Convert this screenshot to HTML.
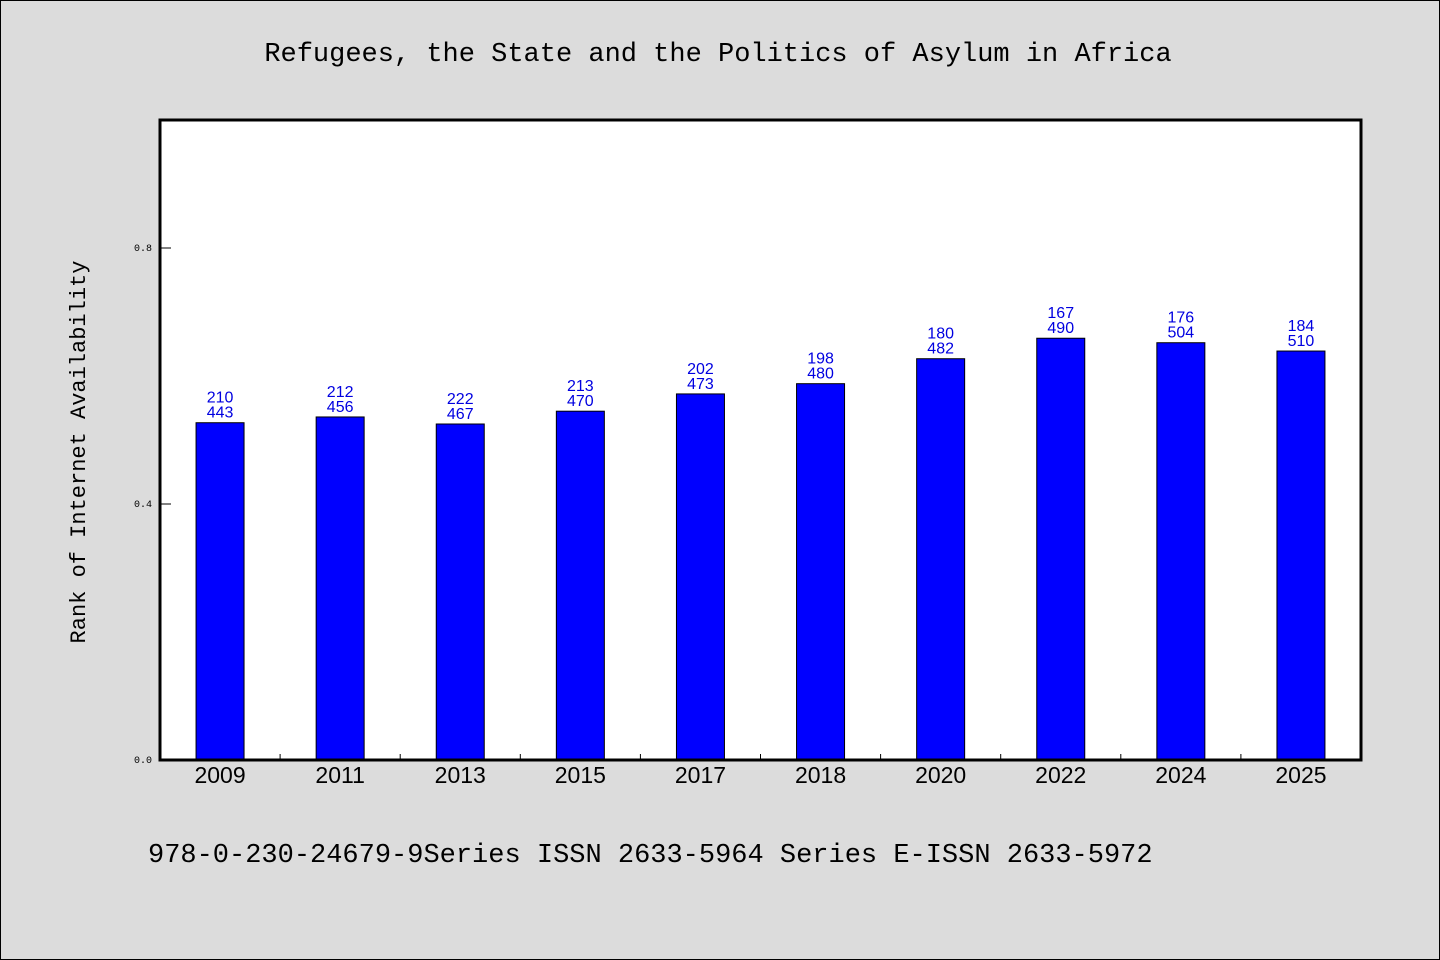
<!DOCTYPE html>
<html><head><meta charset="utf-8"><style>
html,body{margin:0;padding:0;background:#dcdcdc;}
svg{display:block;font-family:"Liberation Mono","DejaVu Sans Mono",monospace;}
</style></head><body>
<svg id="chart" width="1440" height="960" xmlns="http://www.w3.org/2000/svg">
<rect x="0.5" y="0.5" width="1439" height="959" fill="#dcdcdc" stroke="#000"/>
<text x="718" y="61" text-anchor="middle" font-size="27" fill="#000">Refugees, the State and the Politics of Asylum in Africa</text>
<rect x="160" y="120" width="1201" height="640" fill="#fff"/>
<g id="marks"></g>
<rect x="160" y="120" width="1201" height="640" fill="none" stroke="#000" stroke-width="3"/>
<text transform="translate(85,452) rotate(-90)" text-anchor="middle" font-size="22" fill="#000">Rank of Internet Availability</text>
<text x="148" y="862" font-size="27" fill="#000">978-0-230-24679-9Series ISSN 2633-5964 Series E-ISSN 2633-5972</text>
</svg>
<script>
const categories=["2009","2011","2013","2015","2017","2018","2020","2022","2024","2025"];
const values=[0.527,0.536,0.525,0.545,0.572,0.588,0.627,0.659,0.652,0.639];
const labelTop=["210","212","222","213","202","198","180","167","176","184"];
const labelBottom=["443","456","467","470","473","480","482","490","504","510"];
const yTicks=[0,0.4,0.8];
const yTickLabels=["0.0","0.4","0.8"];
const NS="http://www.w3.org/2000/svg";
const X0=160,X1=1361,Y0=760,Y1=120,yMax=1.0;
const step=(X1-X0)/categories.length;
function xC(i){return X0+step*(i+0.5);}
function y(v){return Y0-(v/yMax)*(Y0-Y1);}
const g=document.getElementById('marks');
function mk(tag,attrs){const e=document.createElementNS(NS,tag);for(const k in attrs)e.setAttribute(k,attrs[k]);g.appendChild(e);return e;}
yTicks.forEach((t,i)=>{
  const l=mk('line',{x1:X0,x2:X0+11,y1:y(t),y2:y(t),stroke:'#000','stroke-width':1});
  
  
  const tx=mk('text',{x:X0-8,y:y(t)+3,'text-anchor':'end','font-size':10,fill:'#000'});
  tx.textContent=yTickLabels[i];
  
  
});
for(let i=1;i<categories.length;i++){
  const l=mk('line',{x1:X0+step*i,x2:X0+step*i,y1:Y0,y2:Y0-6,stroke:'#000','stroke-width':1});
  
  
}
categories.forEach((c,i)=>{
  const cx=xC(i),top=y(values[i]);
  const r=mk('rect',{x:cx-24,y:top,width:48,height:Y0-top,fill:'#0000ff',stroke:'#000','stroke-width':1});
  
  
  const t1=mk('text',{x:cx,y:top-20,'text-anchor':'middle','font-size':16,fill:'#0000e0','font-family':'"Liberation Sans",sans-serif'});
  t1.textContent=labelTop[i];
  
  
  const t2=mk('text',{x:cx,y:top-5,'text-anchor':'middle','font-size':16,fill:'#0000e0','font-family':'"Liberation Sans",sans-serif'});
  t2.textContent=labelBottom[i];
  
  
  const xl=mk('text',{x:cx,y:783,'text-anchor':'middle','font-size':23,fill:'#000','font-family':'"Liberation Sans",sans-serif'});
  xl.textContent=c;
  
  
});
</script>
</body></html>
